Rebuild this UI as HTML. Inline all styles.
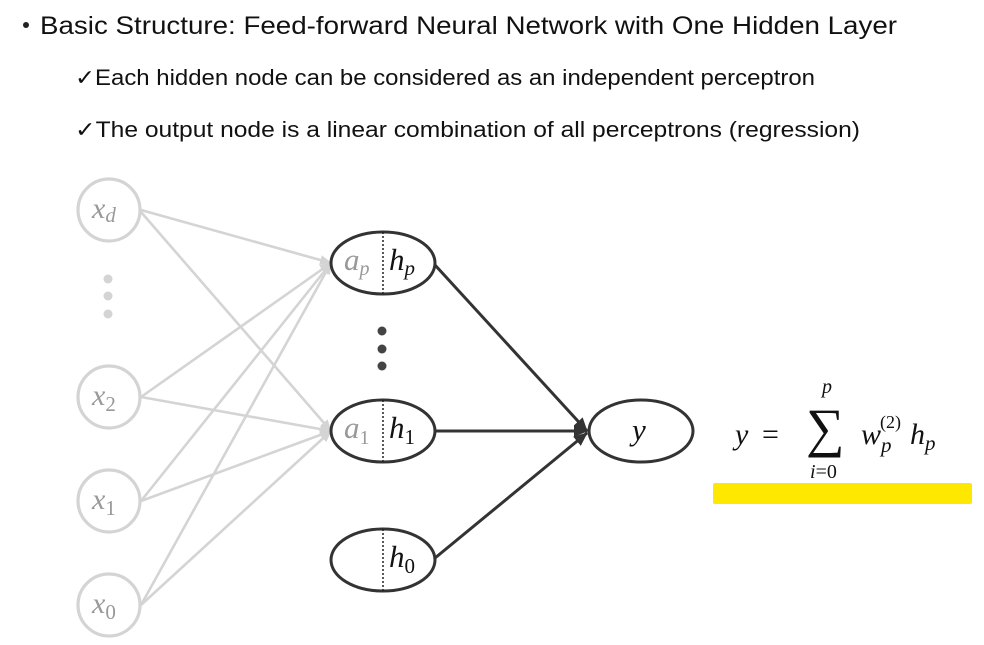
<!DOCTYPE html>
<html><head><style>body{margin:0;background:#fff}svg{display:block}</style></head><body>
<svg width="984" height="645" viewBox="0 0 984 645" xmlns="http://www.w3.org/2000/svg">
<defs>
<marker id="ag" markerWidth="12" markerHeight="12" refX="11" refY="6" orient="auto" markerUnits="userSpaceOnUse"><path d="M0,1 L12,6 L0,11 z" fill="#d4d4d4"/></marker>
<marker id="ak" markerWidth="14" markerHeight="14" refX="13" refY="7" orient="auto" markerUnits="userSpaceOnUse"><path d="M0,1 L14,7 L0,13 z" fill="#333"/></marker>
</defs>
<g font-family="Liberation Sans, sans-serif" fill="#111">
<circle cx="26" cy="25" r="3" fill="#222"/>
<text x="40" y="34" font-size="25" textLength="857" lengthAdjust="spacingAndGlyphs">Basic Structure: Feed-forward Neural Network with One Hidden Layer</text>
<text x="75" y="85" font-size="22" textLength="740" lengthAdjust="spacingAndGlyphs">✓Each hidden node can be considered as an independent perceptron</text>
<text x="75" y="137" font-size="22" textLength="785" lengthAdjust="spacingAndGlyphs">✓The output node is a linear combination of all perceptrons (regression)</text>
</g>
<g stroke="#d4d4d4" stroke-width="2.6" fill="none">
<line x1="141" y1="210" x2="331" y2="263" marker-end="url(#ag)"/>
<line x1="141" y1="212" x2="331" y2="431" marker-end="url(#ag)"/>
<line x1="141" y1="397" x2="331" y2="263" marker-end="url(#ag)"/>
<line x1="141" y1="397" x2="331" y2="431" marker-end="url(#ag)"/>
<line x1="141" y1="501" x2="331" y2="263" marker-end="url(#ag)"/>
<line x1="141" y1="501" x2="331" y2="431" marker-end="url(#ag)"/>
<line x1="141" y1="605" x2="331" y2="263" marker-end="url(#ag)"/>
<line x1="141" y1="605" x2="331" y2="431" marker-end="url(#ag)"/>
<circle cx="109" cy="210" r="31" stroke-width="3.2"/><circle cx="109" cy="397" r="31" stroke-width="3.2"/>
<circle cx="109" cy="501" r="31" stroke-width="3.2"/><circle cx="109" cy="605" r="31" stroke-width="3.2"/>
</g>
<g fill="#d4d4d4"><circle cx="108" cy="279" r="4.5"/><circle cx="108" cy="296" r="4.5"/><circle cx="108" cy="314" r="4.5"/></g>
<g font-family="Liberation Serif, serif" fill="#999" font-size="30">
<text x="92" y="218" font-style="italic">x<tspan font-size="21" dy="4">d</tspan></text>
<text x="92" y="405"><tspan font-style="italic">x</tspan><tspan font-size="21" dy="6">2</tspan></text>
<text x="92" y="509"><tspan font-style="italic">x</tspan><tspan font-size="21" dy="6">1</tspan></text>
<text x="92" y="613"><tspan font-style="italic">x</tspan><tspan font-size="21" dy="6">0</tspan></text>
</g>
<g stroke="#333" stroke-width="3" fill="none">
<line x1="435" y1="265" x2="587" y2="431" marker-end="url(#ak)"/>
<line x1="435" y1="431" x2="587" y2="431" marker-end="url(#ak)"/>
<line x1="435" y1="558" x2="587" y2="433" marker-end="url(#ak)"/>
<ellipse cx="383" cy="263" rx="52" ry="31" fill="#fff"/>
<ellipse cx="383" cy="431" rx="52" ry="31" fill="#fff"/>
<ellipse cx="383" cy="560" rx="52" ry="31" fill="#fff"/>
<ellipse cx="641" cy="431" rx="52" ry="31" fill="#fff"/>
</g>
<g stroke="#222" stroke-width="1.5" stroke-dasharray="2,2">
<line x1="383" y1="232" x2="383" y2="294"/><line x1="383" y1="400" x2="383" y2="462"/><line x1="383" y1="529" x2="383" y2="591"/>
</g>
<g fill="#444"><circle cx="382" cy="331" r="4.5"/><circle cx="382" cy="349" r="4.5"/><circle cx="382" cy="366" r="4.5"/></g>
<g font-family="Liberation Serif, serif" font-size="31">
<text x="344" y="270" fill="#999"><tspan font-style="italic">a</tspan><tspan font-size="20" dy="5" font-style="italic">p</tspan></text>
<text x="389" y="270" fill="#111"><tspan font-style="italic">h</tspan><tspan font-size="21" dy="5" font-style="italic">p</tspan></text>
<text x="344" y="438" fill="#999"><tspan font-style="italic">a</tspan><tspan font-size="20" dy="6">1</tspan></text>
<text x="389" y="438" fill="#111"><tspan font-style="italic">h</tspan><tspan font-size="21" dy="6">1</tspan></text>
<text x="389" y="567" fill="#111"><tspan font-style="italic">h</tspan><tspan font-size="21" dy="6">0</tspan></text>
<text x="632" y="440" fill="#111" font-style="italic">y</text>
</g>
<rect x="713" y="483" width="259" height="21" fill="#ffe800" rx="2"/>
<g font-family="Liberation Serif, serif" font-size="30" fill="#111">
<text x="735" y="444" font-style="italic">y</text>
<text x="762" y="444">=</text>
<text x="806" y="446" font-size="54">∑</text>
<text x="822" y="393" font-style="italic" font-size="20">p</text>
<text x="810" y="478" font-size="20"><tspan font-style="italic">i</tspan>=0</text>
<text x="861" y="444" font-style="italic">w<tspan font-size="21" dy="8">p</tspan></text>
<text x="880" y="428" font-size="18">(2)</text>
<text x="910" y="444" font-style="italic">h<tspan font-size="21" dy="6">p</tspan></text>
</g>
</svg>
</body></html>
